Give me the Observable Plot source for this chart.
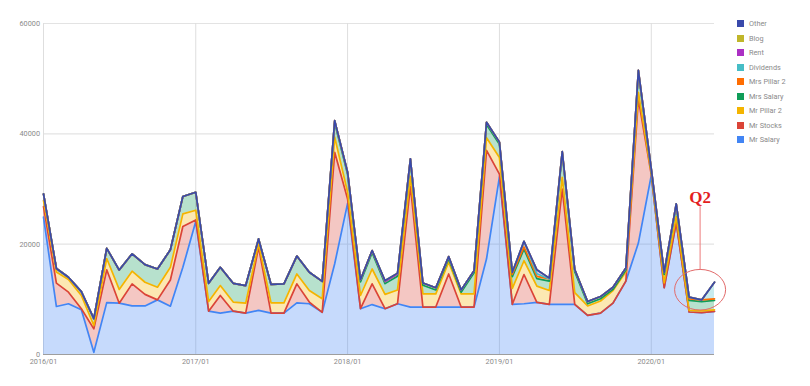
<!DOCTYPE html>
<html>
<head>
<meta charset="utf-8">
<script src="https://cdn.jsdelivr.net/npm/d3@7"></script>
<script src="https://cdn.jsdelivr.net/npm/@observablehq/plot@0.6"></script>
<style>
  html, body { margin: 0; padding: 0; background: #fff; }
  #wrap { position: relative; width: 810px; height: 386px; font-family: Roboto, "Noto Sans", sans-serif; }
  #legend { position: absolute; left: 737px; top: 20px; }
  .item { position: absolute; left: 0; height: 8px; white-space: nowrap; font-size: 7.3px; color: #8a8a8a; }
  .sw { position: absolute; left: 0; top: 0; width: 7px; height: 7px; }
  .lb { position: absolute; left: 12px; top: -1px; line-height: 9px; }
</style>
</head>
<body>
<div id="wrap"></div>
<script>
// ---- data ----
const months = [
  "2016-01","2016-02","2016-03","2016-04","2016-05","2016-06","2016-07","2016-08","2016-09","2016-10","2016-11","2016-12",
  "2017-01","2017-02","2017-03","2017-04","2017-05","2017-06","2017-07","2017-08","2017-09","2017-10","2017-11","2017-12",
  "2018-01","2018-02","2018-03","2018-04","2018-05","2018-06","2018-07","2018-08","2018-09","2018-10","2018-11","2018-12",
  "2019-01","2019-02","2019-03","2019-04","2019-05","2019-06","2019-07","2019-08","2019-09","2019-10","2019-11","2019-12",
  "2020-01","2020-02","2020-03","2020-04","2020-05","2020-06"
];
const seriesNames = ["Mr Salary","Mr Stocks","Mr Pillar 2","Mrs Salary","Mrs Pillar 2","Dividends","Rent","Blog","Other"];
const seriesColors = ["#4285f4","#db4437","#f4b400","#0f9d58","#ff6d01","#46bdc6","#ab30c4","#c0b62a","#3949ab"];

const mrSalary = [24900,8700,9200,8100,400,9400,9300,8800,8800,9900,8750,15800,
  24100,7850,7500,7850,7500,8000,7500,7500,9350,9200,7650,16450,
  27400,8300,9050,8300,9200,8600,8600,8600,8600,8600,8600,17350,
  32200,9100,9200,9450,9100,9100,9100,7100,7500,9300,13300,20200,
  32450,12100,23900,7700,7600,7800];
const mrStocks = [1900,4250,2100,200,4250,5950,0,4000,2100,0,4750,7400,
  300,0,3200,0,0,11450,0,0,3450,300,0,20200,
  800,0,3750,0,0,21900,0,0,6000,0,0,19650,
  500,0,5300,0,0,20900,0,0,0,0,0,26100,
  150,0,0,0,0,0];
const mrPillar2 = [1100,2000,2300,2400,600,2050,2500,2300,2200,2300,2300,2300,
  1750,1750,1800,1650,1800,600,1850,1850,1800,2100,2450,2750,
  1200,2400,2700,2600,2500,1800,2400,2400,2150,2400,2400,2300,
  3000,2900,2500,2950,2500,2100,2100,1700,2200,2300,1700,1200,
  300,900,1100,300,300,300];
const mrsSalary = [1200,650,400,700,1250,1850,3500,3150,3200,3300,3200,3150,
  3250,3300,3300,3400,3200,900,3350,3450,3250,3300,3150,2600,
  3250,2450,2950,1950,2500,2750,1550,700,600,300,3800,2400,
  2400,2100,2100,1350,1700,4300,3800,400,400,200,300,3600,
  350,1500,1900,1800,1700,1700];
const mrsPillar2 = [0,0,0,0,0,0,0,0,0,0,0,0,
  0,0,0,0,0,0,0,0,0,0,0,400,
  400,400,400,400,400,400,400,400,400,400,400,400,
  400,400,400,400,400,400,400,400,400,400,400,400,
  400,400,400,300,300,300];
const dividends = [0,0,0,0,0,0,0,0,0,0,0,0,
  0,0,0,0,0,0,0,0,0,0,0,0,
  0,0,0,0,0,0,0,0,0,0,0,0,
  0,400,1000,500,0,0,0,0,0,0,0,0,
  0,0,0,300,0,3000];
const rent = [0,0,0,0,0,0,0,0,0,0,0,0,
  0,0,0,0,0,0,0,0,0,0,0,0,
  0,0,0,0,0,0,0,0,0,0,0,0,
  0,0,0,700,150,0,0,0,0,0,0,0,
  0,0,0,0,0,0];
const blog = [0,0,0,0,0,0,0,0,0,0,0,0,
  0,0,0,0,0,0,0,0,0,0,0,0,
  0,0,0,150,150,0,0,0,0,0,0,0,
  0,0,0,0,0,0,0,0,0,0,0,0,
  0,0,0,0,0,0];
const other = [0,0,0,0,0,0,0,0,0,0,0,0,
  0,0,0,0,0,0,0,0,0,0,0,0,
  0,0,0,0,0,0,0,0,0,0,0,0,
  0,0,0,0,0,0,0,0,0,0,0,0,
  0,0,0,0,0,0];

const yTicks = [0, 20000, 40000, 60000];
const xTickMonths = ["2016-01","2017-01","2018-01","2019-01","2020-01"];
const xTickLabels = ["2016/01","2017/01","2018/01","2019/01","2020/01"];

// annotation (data coordinates)
const annotMonth = "2020-05";
const annotLabel = "Q2";

// ---- build ----
const parse = d3.utcParse("%Y-%m");
const seriesValues = [mrSalary, mrStocks, mrPillar2, mrsSalary, mrsPillar2, dividends, rent, blog, other];
const rows = months.flatMap((m, i) => seriesNames.map((s, k) => ({date: parse(m), series: s, value: seriesValues[k][i]})));
const xTickDates = xTickMonths.map(parse);
const labelByTime = new Map(xTickDates.map((d, i) => [+d, xTickLabels[i]]));

const chart = Plot.plot({
  width: 810, height: 386,
  marginLeft: 43, marginRight: 96, marginTop: 23, marginBottom: 32,
  style: {fontFamily: "Roboto, 'Noto Sans', sans-serif", fontSize: "7.3px", color: "#8a8a8a", background: "#fff", overflow: "visible"},
  x: {type: "utc", domain: [parse(months[0]), parse(months[months.length - 1])]},
  y: {domain: [0, 60000]},
  color: {domain: seriesNames, range: seriesColors},
  marks: [
    Plot.gridY(yTicks.filter(d => d > 0), {stroke: "#e3e3e3", strokeOpacity: 1, strokeWidth: 1.2}),
    Plot.gridX(xTickDates, {stroke: "#dedede", strokeOpacity: 1}),
    Plot.areaY(rows, Plot.stackY({x: "date", y: "value", z: "series", fill: "series", fillOpacity: 0.3, order: seriesNames})),
    Plot.ruleY([0], {stroke: "#9e9e9e", strokeWidth: 1}),
    Plot.lineY(rows, Plot.stackY2({x: "date", y: "value", z: "series", stroke: "series", strokeWidth: 1.7, order: seriesNames})),
    Plot.axisY(yTicks, {tickSize: 0, tickPadding: 3.5, tickFormat: d => String(d), label: null, fontSize: 7.3, fill: "#8a8a8a"}),
    Plot.axisX(xTickDates, {tickSize: 0, tickPadding: 4.5, tickFormat: d => labelByTime.get(+d), label: null, fontSize: 7.3, fill: "#8a8a8a"})
  ]
});

const wrap = document.getElementById("wrap");
wrap.appendChild(chart);

// annotation using the plot's scales
const sx = chart.scale("x"), sy = chart.scale("y");
const svg = d3.select(chart);
const ax = sx.apply(parse(annotMonth)) - 1;
const g = svg.append("g");
g.append("line")
  .attr("x1", ax).attr("x2", ax)
  .attr("y1", sy.apply(26800)).attr("y2", sy.apply(15400))
  .attr("stroke", "#ec7b7b").attr("stroke-width", 1);
g.append("ellipse")
  .attr("cx", ax).attr("cy", sy.apply(11650))
  .attr("rx", 25.5).attr("ry", 20.3)
  .attr("fill", "none").attr("stroke", "#e26a6a").attr("stroke-width", 1);
g.append("text")
  .attr("x", ax).attr("y", sy.apply(27370))
  .attr("text-anchor", "middle")
  .attr("font-family", "'Liberation Serif', 'DejaVu Serif', serif")
  .attr("font-weight", "bold").attr("font-size", 17)
  .attr("fill", "#e41e1e")
  .text(annotLabel);

// legend (top to bottom = reversed stack order)
const legend = document.createElement("div");
legend.id = "legend";
seriesNames.slice().reverse().forEach((name, i) => {
  const color = seriesColors[seriesNames.indexOf(name)];
  const item = document.createElement("div");
  item.className = "item";
  item.style.top = (i * 14.5) + "px";
  item.innerHTML = `<span class="sw" style="background:${color}"></span><span class="lb">${name}</span>`;
  legend.appendChild(item);
});
wrap.appendChild(legend);
</script>
</body>
</html>
